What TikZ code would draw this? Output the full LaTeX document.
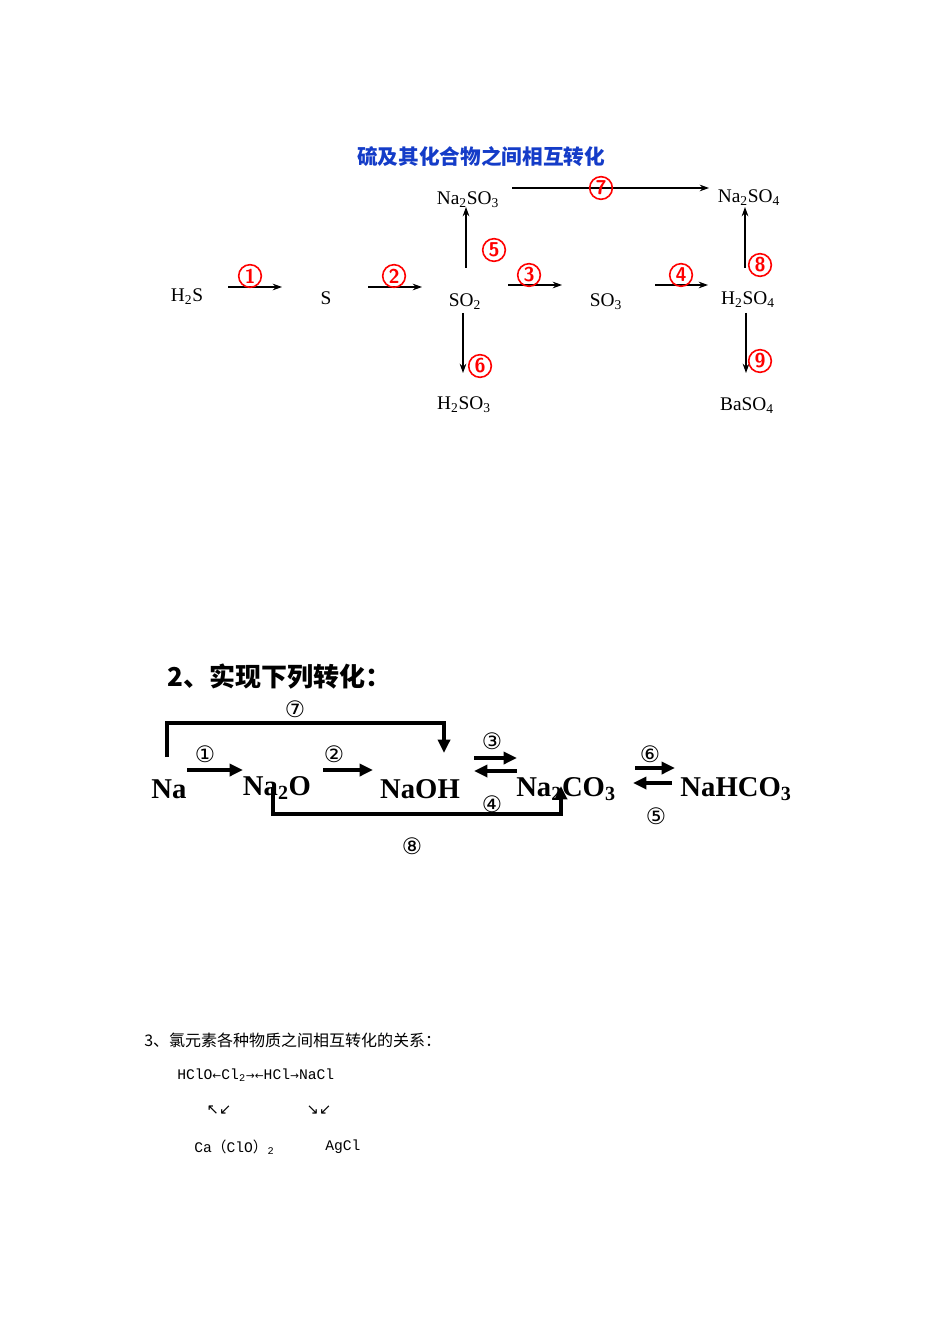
\documentclass[tikz,border=0pt]{standalone}
\usepackage{fontspec}
\setmainfont{Liberation Serif}
\newfontfamily\cjk{Noto Sans CJK SC}
\newfontfamily\djv{DejaVu Sans}
\newfontfamily\mono{Liberation Mono}
\usetikzlibrary{arrows.meta}
\begin{document}
\begin{tikzpicture}[x=0.75pt,y=-0.75pt,
  chem/.style={font=\fontsize{14.5}{16}\selectfont, inner sep=0},
  big/.style={font=\fontsize{21.5}{24}\selectfont\bfseries, inner sep=0},
  thin/.style={-{Stealth[length=7pt,width=5pt]}, line width=0.8pt},
  thick/.style={-{Triangle[length=10pt,width=9pt]}, line width=3pt},
  rnum/.style={circle, draw=red, line width=1.2pt, text=red, inner sep=0, minimum size=17pt, font=\fontsize{15}{15}\selectfont\bfseries\sffamily},
  cnum/.style={font=\djv\fontsize{17}{17}\selectfont, inner sep=0}]
\useasboundingbox (0,0) rectangle (950,1344);
\fill[white] (0,0) rectangle (950,1344);
\node[font=\cjk\fontsize{15.5}{16}\selectfont\bfseries, text={rgb,255:red,20;green,60;blue,200}] (title) at (481,157) {硫及其化合物之间相互转化};
\node[chem] (h2s) at (187,297) {H\textsubscript{2}S};
\node[chem] (s) at (326,298) {S};
\node[chem] (so2) at (465,302) {SO\textsubscript{2}};
\node[chem] (so3) at (606,302) {SO\textsubscript{3}};
\node[chem] (h2so4) at (748,300) {H\textsubscript{2}SO\textsubscript{4}};
\node[chem] (na2so3) at (468,200) {Na\textsubscript{2}SO\textsubscript{3}};
\node[chem] (na2so4) at (749,198) {Na\textsubscript{2}SO\textsubscript{4}};
\node[chem] (h2so3) at (464,405) {H\textsubscript{2}SO\textsubscript{3}};
\node[chem] (baso4) at (747,406) {BaSO\textsubscript{4}};
\coordinate (a1s) at (228,287); \coordinate (a1e) at (282,287);
\coordinate (a2s) at (368,287); \coordinate (a2e) at (422,287);
\coordinate (a3s) at (508,285); \coordinate (a3e) at (562,285);
\coordinate (a4s) at (655,285); \coordinate (a4e) at (708,285);
\coordinate (a5s) at (466,268); \coordinate (a5e) at (466,207);
\coordinate (a6s) at (463,313); \coordinate (a6e) at (463,373);
\coordinate (a7s) at (512,188); \coordinate (a7e) at (709,188);
\coordinate (a8s) at (745,268); \coordinate (a8e) at (745,207);
\coordinate (a9s) at (746,313); \coordinate (a9e) at (746,373);
\foreach \i in {1,...,9} \draw[thin] (a\i s) -- (a\i e);
\node[rnum] (r1) at (250,276) {1};
\node[rnum] (r2) at (394,276) {2};
\node[rnum] (r3) at (529,275) {3};
\node[rnum] (r4) at (681,275) {4};
\node[rnum] (r5) at (494,250) {5};
\node[rnum] (r6) at (480,366) {6};
\node[rnum] (r7) at (601,188) {7};
\node[rnum] (r8) at (760,265) {8};
\node[rnum] (r9) at (760,361) {9};
% section 2
\node[font=\cjk\fontsize{19.5}{20}\selectfont\bfseries, anchor=west, inner sep=0] (t2) at (167,677) {2、实现下列转化：};
\node[big] (na) at (169,789) {Na};
\node[big] (na2o) at (277,788) {Na\textsubscript{2}O};
\node[big] (naoh) at (420,789) {NaOH};
\node[big] (na2co3) at (566,789) {Na\textsubscript{2}CO\textsubscript{3}};
\node[big] (nahco3) at (736,789) {NaHCO\textsubscript{3}};
\draw[thick] (187,770) -- (243,770);
\draw[thick] (323,770) -- (373,770);
\draw[thick] (474,758) -- (517,758);
\draw[thick] (517,771) -- (474,771);
\draw[thick] (635,768) -- (675,768);
\draw[thick] (672,783) -- (633,783);
\draw[thick] (167,757) -- (167,723) -- (444,723) -- (444,753);
\draw[thick] (273,787) -- (273,814) -- (561,814) -- (561,786);
\node[cnum] (c7) at (295,709) {⑦};
\node[cnum] (c1) at (205,754) {①};
\node[cnum] (c2) at (334,754) {②};
\node[cnum] (c3) at (492,741) {③};
\node[cnum] (c4) at (492,804) {④};
\node[cnum] (c6) at (650,754) {⑥};
\node[cnum] (c5) at (656,816) {⑤};
\node[cnum] (c8) at (412,846) {⑧};
% section 3
\node[font=\cjk\fontsize{12}{12}\selectfont, anchor=west, inner sep=0] (t3) at (144,1040) {3、氯元素各种物质之间相互转化的关系：};
\node[font=\mono\fontsize{11}{12}\selectfont, anchor=west, inner sep=0] (l1) at (177,1075) {HClO{\djv\fontsize{8}{8}\selectfont←}Cl\textsubscript{2}{\djv\fontsize{8}{8}\selectfont→←}HCl{\djv\fontsize{8}{8}\selectfont→}NaCl};
\node[font=\djv\fontsize{11}{11}\selectfont, inner sep=0] (ar1) at (219,1110) {↖↙};
\node[font=\djv\fontsize{11}{11}\selectfont, inner sep=0] (ar2) at (319,1110) {↘↙};
\node[font=\mono\fontsize{11}{12}\selectfont, anchor=west, inner sep=0] (ca) at (194,1147) {Ca{\cjk（}ClO{\cjk）}\textsubscript{2}};
\node[font=\mono\fontsize{11}{12}\selectfont, anchor=west, inner sep=0] (agcl) at (325,1147) {AgCl};
\end{tikzpicture}
\end{document}
